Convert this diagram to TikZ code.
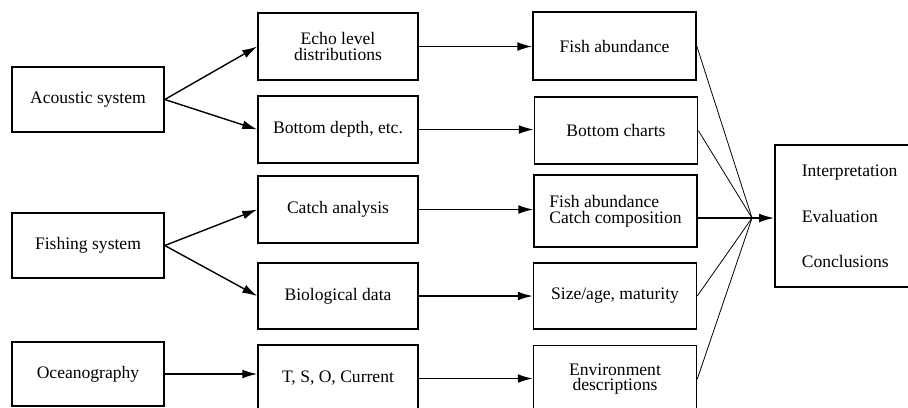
\documentclass[tikz,border=0pt]{standalone}
\usepackage{fontspec}
\setmainfont{Liberation Serif}
\usetikzlibrary{arrows.meta}

\begin{document}
\begin{tikzpicture}[x=0.02cm,y=-0.02cm,
    box/.style={draw,line width=0.9pt,align=center,inner sep=1pt,
      font=\fontsize{10}{9}\selectfont},
    conn/.style={line width=0.8pt,-{Latex[length=8.5pt,width=5pt]}},
    thin/.style={line width=0.45pt}]
  \useasboundingbox (0,0) rectangle (908,407);
  \clip (0,0) rectangle (908,407);
  % sources
  \node[box,minimum width=3.04cm,minimum height=1.3cm] (acou) at (88,99.5) {Acoustic system};
  \node[box,minimum width=3.04cm,minimum height=1.3cm] (fish) at (88,245.5) {Fishing system};
  \node[box,minimum width=3.04cm,minimum height=1.28cm] (ocean) at (88,374) {Oceanography};
  % raw data
  \node[box,minimum width=3.2cm,minimum height=1.34cm] (echo) at (338,46.5) {Echo level\\distributions};
  \node[box,minimum width=3.2cm,minimum height=1.34cm] (depth) at (338,129.5) {Bottom depth, etc.};
  \node[box,minimum width=3.2cm,minimum height=1.34cm] (catch) at (338,209.5) {Catch analysis};
  \node[box,minimum width=3.2cm,minimum height=1.32cm] (bio) at (338,296) {Biological data};
  \node[box,minimum width=3.2cm,minimum height=1.34cm] (tso) at (338,378.5) {T, S, O, Current};
  % products
  \node[box,minimum width=3.26cm,minimum height=1.36cm] (abund) at (614.5,46) {Fish abundance};
  \node[box,minimum width=3.26cm,minimum height=1.34cm] (charts) at (616,130.5) {Bottom charts};
  \node[box,minimum width=3.26cm,minimum height=1.44cm,align=left] (comp) at (615.5,211) {Fish abundance\\Catch composition};
  \node[box,minimum width=3.26cm,minimum height=1.32cm] (size) at (615,296) {Size/age, maturity};
  \node[box,minimum width=3.26cm,minimum height=1.34cm] (env) at (615,379) {Environment\\descriptions};
  % result
  \node[box,anchor=west,minimum height=2.84cm,align=left,text width=2.3cm,inner xsep=0.54cm]
    (interp) at (774,216) {Interpretation\\[16.5pt]Evaluation\\[16.5pt]Conclusions};
  \coordinate (conv) at (752,218);
  % connectors
  \draw[conn] (acou.east) -- (echo.west);
  \draw[conn] (acou.east) -- (depth.west);
  \draw[conn] (fish.east) -- (catch.west);
  \draw[conn] (fish.east) -- (bio.west);
  \draw[conn] (ocean.east) -- (ocean.east -| tso.west);
  \foreach \a/\b in {echo/abund, depth/charts, catch/comp, bio/size, tso/env}
    \draw[conn] (\a.east) -- (\a.east -| \b.west);
  \foreach \p in {abund, charts, size, env}
    \draw[thin] (\p.east) -- (conv);
  \draw[line width=0.8pt] (comp.east |- conv) -- (conv);
  \draw[conn] (conv) -- (conv -| interp.west);
\end{tikzpicture}
\end{document}
